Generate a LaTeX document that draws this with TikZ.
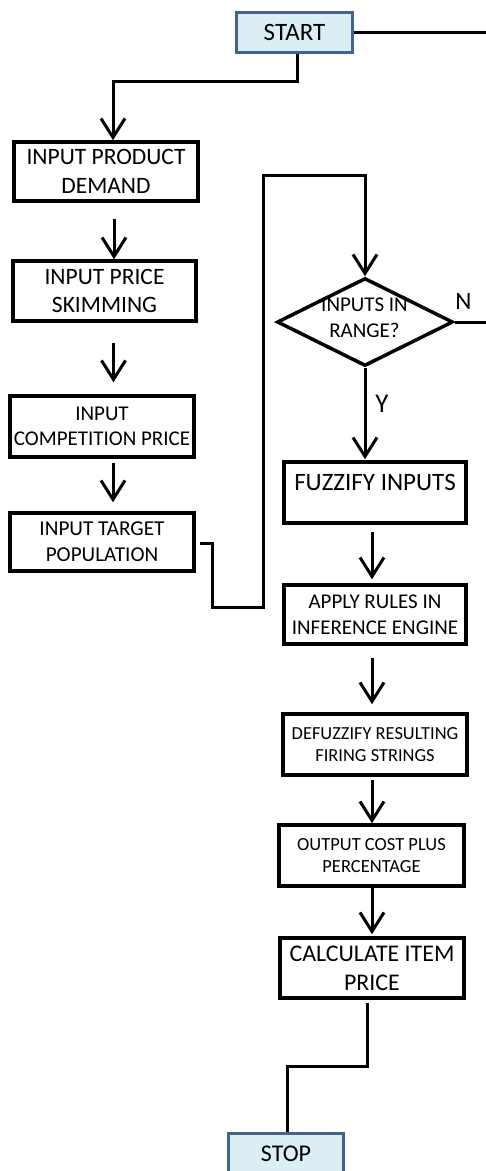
\documentclass[tikz,border=0pt]{standalone}
\usepackage{fontspec}
\setmainfont{Carlito}
\usetikzlibrary{arrows.meta,shapes.geometric,calc}
\definecolor{termfill}{RGB}{219,238,244}
\definecolor{termdraw}{RGB}{65,100,143}
\begin{document}
\begin{tikzpicture}[x=1pt,y=-1pt,
  box/.style={draw=black,line width=3.5pt,rectangle,inner sep=0pt,align=center,fill=white},
  term/.style={draw=termdraw,fill=termfill,line width=3pt,rectangle,inner sep=0pt,align=center},
  decision/.style={draw=black,line width=3.5pt,diamond,inner sep=0pt},
  conn/.style={line width=3pt,draw=black},
  arr/.style={conn,-{Straight Barb[length=19pt,width=24pt]}},
  tag/.style={inner sep=0pt,font=\fontsize{25}{30}\selectfont}]
\useasboundingbox (0,0) rectangle (486,1171);
\fill[white] (0,0) rectangle (486,1171);
\clip (0,0) rectangle (486,1171);

% terminals
\node[term,minimum width=116pt,minimum height=40pt,font=\fontsize{25}{30.5}\selectfont] (start) at (294.5,32.5) {START};
\node[term,minimum width=115pt,minimum height=40pt,font=\fontsize{24}{29.3}\selectfont] (stop) at (286,1153.5) {STOP};

% input column
\node[box,minimum width=184pt,minimum height=59pt,font=\fontsize{23.5}{28.7}\selectfont] (b1) at (106,171.5) {INPUT PRODUCT\\DEMAND};
\node[box,minimum width=183pt,minimum height=60pt,font=\fontsize{23.5}{28.7}\selectfont] (b2) at (104.5,291) {INPUT PRICE\\SKIMMING};
\node[box,minimum width=184pt,minimum height=61pt,font=\fontsize{21}{25.6}\selectfont] (b3) at (102,426.5) {INPUT\\COMPETITION PRICE};
\node[box,minimum width=184pt,minimum height=58pt,font=\fontsize{21.2}{25.9}\selectfont] (b4) at (102,542) {INPUT TARGET\\POPULATION};

% decision
\node[decision,minimum width=176pt,minimum height=88pt] (d) at (365,322) {};
\node[inner sep=0pt,align=center,font=\fontsize{21}{25.6}\selectfont] (dtext) at (364.5,318) {INPUTS IN\\RANGE?};
\node[tag] (nlab) at (463.5,301) {N};
\node[tag,font=\fontsize{27}{32}\selectfont] (ylab) at (382,403.5) {Y};

% processing column
\node[box,minimum width=182pt,minimum height=61pt,text height=10pt,text depth=15pt,font=\fontsize{25}{30.5}\selectfont] (b5) at (375,492.5) {FUZZIFY INPUTS};
\node[box,minimum width=182pt,minimum height=59pt,font=\fontsize{21}{25.6}\selectfont] (b6) at (375,614.5) {APPLY RULES IN\\INFERENCE ENGINE};
\node[box,minimum width=184pt,minimum height=61pt,font=\fontsize{18.4}{22.4}\selectfont] (b7) at (375,744.5) {DEFUZZIFY RESULTING\\FIRING STRINGS};
\node[box,minimum width=185pt,minimum height=61pt,font=\fontsize{18.5}{22.6}\selectfont] (b8) at (371.5,855.5) {OUTPUT COST PLUS\\PERCENTAGE};
\node[box,minimum width=184pt,minimum height=60pt,font=\fontsize{23.9}{29.2}\selectfont] (b9) at (372,968) {CALCULATE ITEM\\PRICE};

% bend points
\coordinate (k0) at (113,81);
\coordinate (k1) at (212,607);
\coordinate (k2) at (263.5,175);
\coordinate (k3) at (287,1066);
\coordinate (edge) at (490,0);

% connectors
\draw[conn] (start.east) -- (edge |- start.east);
\draw[arr] ([xshift=2.5pt]start.south) |- (k0) -- (k0 |- b1.north);
\draw[arr] ($(b1.south)+(8,16)$) coordinate (a1) -- (a1 |- b2.north);
\draw[arr,shorten >=12pt] ($(b2.south)+(9,20)$) coordinate (a2) -- (a2 |- b3.north);
\draw[arr,shorten >=9pt] ($(b3.south)+(11,4)$) coordinate (a3) -- (a3 |- b4.north);
\draw[conn,arr,line join=miter] ($(b4.east)+(4,1)$) -| (k1) -| (k2) -| (d.north);
\draw[conn] (d.east) -- (edge |- d.east);
\draw[arr,shorten >=1pt] (d.south) -- (d.south |- b5.north);
\draw[arr,shorten >=4pt] ($(b5.south)+(-3,7)$) coordinate (a5) -- (a5 |- b6.north);
\draw[arr,shorten >=8pt] ($(b6.south)+(-3,12)$) coordinate (a6) -- (a6 |- b7.north);
\draw[arr] ($(b7.south)+(-3,3)$) coordinate (a7) -- (a7 |- b8.north);
\draw[arr,shorten >=2pt] ($(b8.south)+(0.5,0)$) coordinate (a8) -- (a8 |- b9.north);
\draw[conn,line join=miter] ($(b9.south)+(-5,3)$) |- (k3) -- (k3 |- stop.north);
\end{tikzpicture}
\end{document}
